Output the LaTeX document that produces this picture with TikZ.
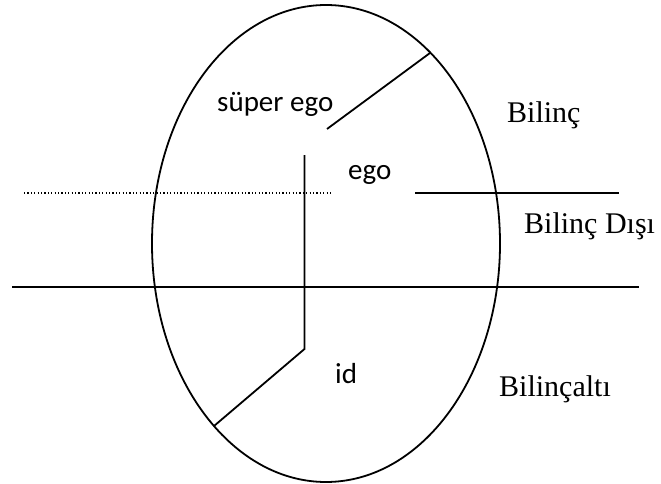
\documentclass[tikz,border=0pt]{standalone}
\usepackage{fontspec}
\setmainfont{Liberation Serif}
\newfontfamily\calib{Carlito}
\begin{document}
\begin{tikzpicture}[x=1pt,y=-1pt,
  ln/.style={line width=1.8pt, black},
  dotln/.style={line width=1.1pt, black, dash pattern=on 1.2pt off 2.2pt},
  sanslbl/.style={inner sep=0pt, anchor=base west, font=\calib\fontsize{29}{34}\selectfont},
  seriflbl/.style={inner sep=0pt, anchor=base west, font=\fontsize{30}{36}\selectfont}]
\useasboundingbox (0,0) rectangle (661,484);
% ellipse
\draw[ln] (326,243.5) ellipse [x radius=174, y radius=238.5];
% coordinates
\coordinate (s1) at (430,53);
\coordinate (s2) at (327,129);
\coordinate (v1) at (304.5,155);
\coordinate (v2) at (304.5,349);
\coordinate (d2) at (214,426);
\coordinate (dl1) at (24,193);
\coordinate (dl2) at (333,193);
\coordinate (r1) at (415,193);
\coordinate (r2) at (619,193);
\coordinate (h1) at (12,287);
\coordinate (h2) at (639,287);
% lines
\draw[ln] (s1) -- (s2);
\draw[ln] (v1) -- (v2) -- (d2);
\draw[dotln] (dl1) -- (dl2);
\draw[ln] (r1) -- (r2);
\draw[ln] (h1) -- (h2);
% labels
\node[sanslbl] (super) at (217,112) {süper ego};
\node[sanslbl] (ego) at (348,179) {ego};
\node[sanslbl] (id) at (335,383) {id};
\node[seriflbl] (bilinc) at (507,123) {Bilinç};
\node[seriflbl] (bdisi) at (524,233) {Bilinç Dışı};
\node[seriflbl] (balti) at (499,396) {Bilinçaltı};
\end{tikzpicture}
\end{document}
